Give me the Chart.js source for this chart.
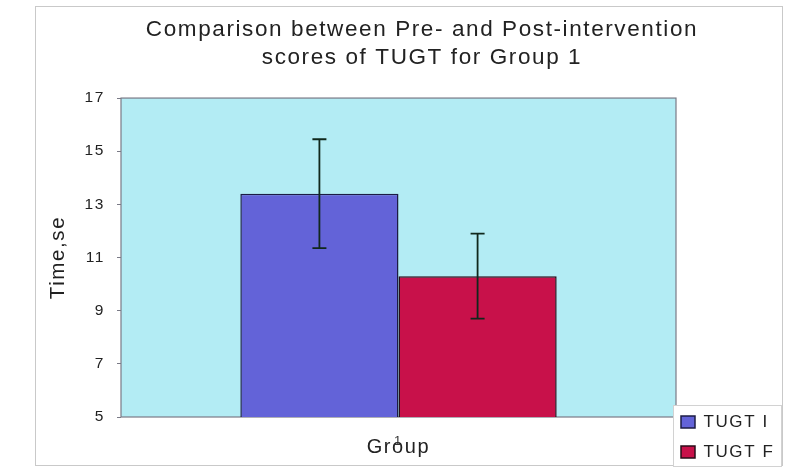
<!DOCTYPE html>
<html>
<head>
<meta charset="utf-8">
<script src="https://cdn.jsdelivr.net/npm/chart.js@4/dist/chart.umd.min.js"></script>
<style>
  html, body { margin: 0; padding: 0; background: #ffffff; }
  #wrap { width: 796px; height: 468px; position: relative; }
</style>
</head>
<body>
<div id="wrap"><canvas id="c" width="796" height="468"></canvas></div>
<script>
// ---- data ----
const categories = ['1'];
const seriesNames = ['TUGT I', 'TUGT F'];
const tugtI = [13.4];
const tugtF = [10.3];
const errI = [2.05];
const errF = [1.6];
const yTicks = [5, 7, 9, 11, 13, 15, 17];

const LS = '1.6px';

const framePlugin = {
  id: 'frame',
  beforeUpdate(chart) { chart.ctx.letterSpacing = LS; },
  beforeLayout(chart) { chart.ctx.letterSpacing = LS; },
  afterLayout(chart) {
    const lg = chart.legend;
    if (lg) {
      const w = lg.width, h = lg.height;
      lg.left = 668; lg.top = 400.5;
      lg.right = lg.left + w; lg.bottom = lg.top + h;
    }
    const tb = chart.titleBlock;
    if (tb) {
      const w = tb.right - tb.left;
      const cx = 422;
      tb.left = cx - w / 2; tb.right = cx + w / 2;
    }
  },
  beforeDraw(chart) {
    const ctx = chart.ctx;
    ctx.letterSpacing = LS;
    const a = chart.chartArea;
    ctx.save();
    // outer frame
    ctx.strokeStyle = '#c9c9c9';
    ctx.lineWidth = 1;
    ctx.strokeRect(35.5, 6.5, 747, 459);
    // plot background
    ctx.fillStyle = '#b3ecf4';
    ctx.fillRect(a.left, a.top, a.right - a.left, a.bottom - a.top);
    ctx.strokeStyle = '#7a7a86';
    ctx.lineWidth = 1.2;
    ctx.strokeRect(a.left, a.top, a.right - a.left, a.bottom - a.top);
    // legend frame
    ctx.fillStyle = '#ffffff';
    ctx.fillRect(673, 405, 108, 61);
    ctx.strokeStyle = '#d2d2d2';
    ctx.lineWidth = 1;
    ctx.strokeRect(673.5, 405.5, 108, 61);
    ctx.restore();
  },
  afterDatasetsDraw(chart) {
    const ctx = chart.ctx;
    const y = chart.scales.y;
    const errs = [errI, errF];
    ctx.save();
    ctx.strokeStyle = '#10281c';
    ctx.lineWidth = 1.8;
    chart.data.datasets.forEach((ds, di) => {
      const meta = chart.getDatasetMeta(di);
      meta.data.forEach((bar, i) => {
        const v = ds.data[i], e = errs[di][i];
        const x = bar.x;
        const yt = y.getPixelForValue(v + e);
        const yb = y.getPixelForValue(v - e);
        ctx.beginPath();
        ctx.moveTo(x, yt); ctx.lineTo(x, yb);
        ctx.moveTo(x - 7, yt); ctx.lineTo(x + 7, yt);
        ctx.moveTo(x - 7, yb); ctx.lineTo(x + 7, yb);
        ctx.stroke();
      });
    });
    ctx.restore();
  }
};

Chart.defaults.font.family = "'Liberation Sans', Arial, sans-serif";
Chart.defaults.color = '#222222';

new Chart(document.getElementById('c'), {
  type: 'bar',
  data: {
    labels: categories,
    datasets: [
      { label: seriesNames[0], data: tugtI, backgroundColor: '#6363d8', borderColor: '#1c1c44', borderWidth: 1.5 },
      { label: seriesNames[1], data: tugtF, backgroundColor: '#c8114a', borderColor: '#2a0c18', borderWidth: 1.5 }
    ]
  },
  options: {
    responsive: false,
    animation: false,
    events: [],
    layout: { padding: { left: 40, right: 120, top: 8, bottom: 8 } },
    datasets: { bar: { categoryPercentage: 0.57, barPercentage: 1.0 } },
    plugins: {
      title: {
        display: true,
        text: ['Comparison between Pre- and Post-intervention', 'scores of TUGT for Group 1'],
        font: { size: 22.5, weight: 'normal', lineHeight: 1.25 },
        color: '#222222',
        padding: { top: 8, bottom: 25.8 }
      },
      legend: {
        display: true,
        position: 'chartArea',
        align: 'start',
        labels: {
          boxWidth: 14, boxHeight: 12, padding: 13,
          font: { size: 17 }, color: '#222222'
        }
      },
      tooltip: { enabled: false }
    },
    scales: {
      x: {
        grid: { display: false, drawTicks: false },
        border: { display: false },
        ticks: { font: { size: 13 }, padding: 17, color: '#333333' },
        title: { display: true, text: 'Group', font: { size: 20 }, color: '#222222', padding: { top: -14.6, bottom: 1 } },
        afterFit(s) { s.height = 43; }
      },
      y: {
        min: 5, max: 17,
        afterBuildTicks(s) { s.ticks = yTicks.map(v => ({ value: v })); },
        grid: { display: true, drawOnChartArea: false, drawTicks: true, tickLength: 4, color: '#7a7a86' },
        border: { display: false },
        ticks: { font: { size: 15.5 }, padding: 12, color: '#222222' },
        title: { display: true, text: 'Time,se', font: { size: 20.5 }, color: '#222222', padding: { top: 6, bottom: 4 } },
        afterFit(s) { s.width = 81; }
      }
    }
  },
  plugins: [framePlugin]
});
</script>
</body>
</html>
